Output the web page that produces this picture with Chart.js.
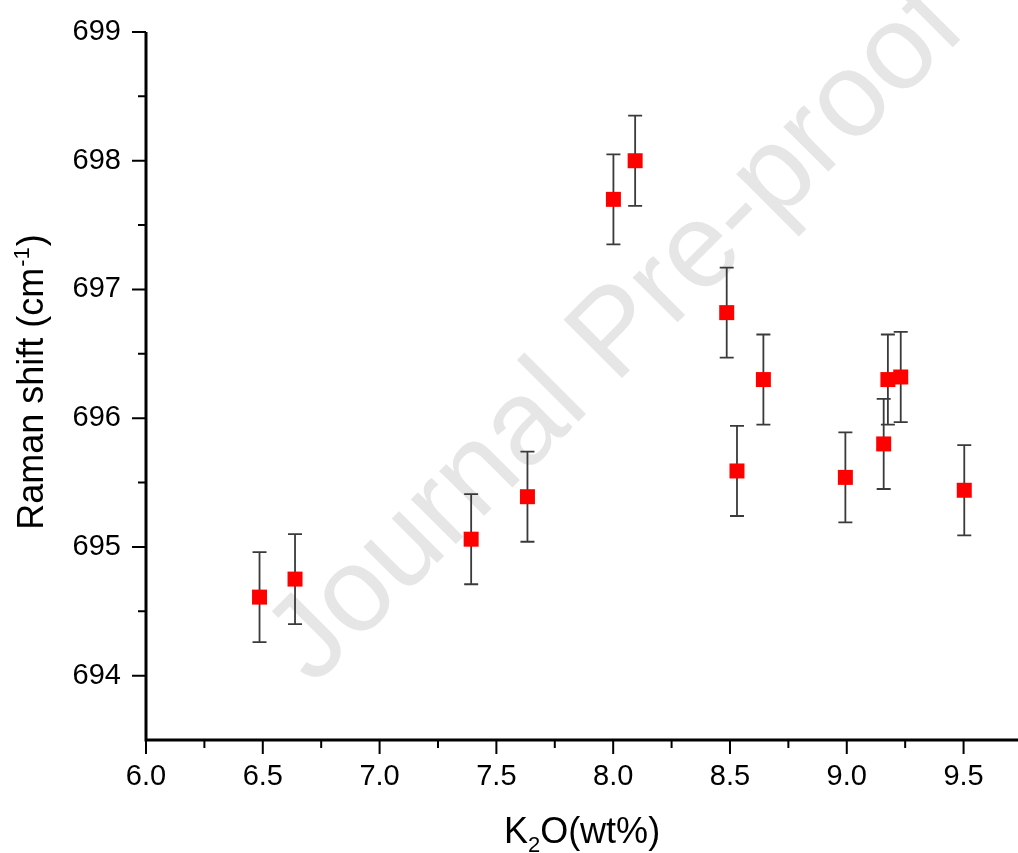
<!DOCTYPE html>
<html><head><meta charset="utf-8">
<script src="https://cdn.jsdelivr.net/npm/chart.js@4/dist/chart.umd.min.js"></script>
<style>html,body{margin:0;padding:0;background:#fff;overflow:hidden}#wrap{width:1018px;height:853px;position:relative}</style>
</head><body><div id="wrap"><canvas id="c"></canvas></div>
<script>
// ---- data ----
const k2o = [6.486, 6.638, 7.392, 7.633, 8.001, 8.094, 8.486, 8.530, 8.643, 8.994, 9.158, 9.176, 9.231, 9.503];
const ramanShift = [694.61, 694.75, 695.06, 695.39, 697.70, 698.00, 696.82, 695.59, 696.30, 695.54, 695.80, 696.30, 696.32, 695.44];
const ramanError = [0.35, 0.35, 0.35, 0.35, 0.35, 0.35, 0.35, 0.35, 0.35, 0.35, 0.35, 0.35, 0.35, 0.35];
const xMajorTicks = [6.0, 6.5, 7.0, 7.5, 8.0, 8.5, 9.0, 9.5];
const xMinorTicks = [6.25, 6.75, 7.25, 7.75, 8.25, 8.75, 9.25];
const yMajorTicks = [694, 695, 696, 697, 698, 699];
const yMinorTicks = [694.5, 695.5, 696.5, 697.5, 698.5];
const xRange = [6.0, 9.733];
const yRange = [693.5, 699];
const xTitleMain = 'K', xTitleSub = '2', xTitleRest = 'O(wt%)';
const yTitleMain = 'Raman shift (cm', yTitleSup = '-1', yTitleEnd = ')';
const watermarkText = 'Journal Pre-proof';

const FONT = '"Liberation Sans", Arial, Helvetica, sans-serif';

const customDraw = {
  id: 'customDraw',
  beforeDraw(chart) {
    const ctx = chart.ctx;
    ctx.save();
    ctx.fillStyle = '#ffffff';
    ctx.fillRect(0, 0, chart.width, chart.height);
    ctx.translate(641, 359);
    ctx.rotate(-Math.PI / 4);
    ctx.font = '120px ' + FONT;
    ctx.fillStyle = '#e6e6e6';
    ctx.textAlign = 'center';
    ctx.textBaseline = 'alphabetic';
    ctx.fillText(watermarkText, 0, 0);
    ctx.restore();
  },
  beforeDatasetsDraw(chart) {
    const ctx = chart.ctx, xs = chart.scales.x, ys = chart.scales.y;
    ctx.save();
    ctx.strokeStyle = '#3a3a3a';
    ctx.lineWidth = 1.8;
    const cap = 7;
    k2o.forEach((xv, i) => {
      const px = xs.getPixelForValue(xv);
      const pt = ys.getPixelForValue(ramanShift[i] + ramanError[i]);
      const pb = ys.getPixelForValue(ramanShift[i] - ramanError[i]);
      ctx.beginPath();
      ctx.moveTo(px, pt); ctx.lineTo(px, pb);
      ctx.moveTo(px - cap, pt); ctx.lineTo(px + cap, pt);
      ctx.moveTo(px - cap, pb); ctx.lineTo(px + cap, pb);
      ctx.stroke();
    });
    ctx.restore();
  },
  afterDraw(chart) {
    const ctx = chart.ctx, xs = chart.scales.x, ys = chart.scales.y, a = chart.chartArea;
    ctx.save();
    ctx.strokeStyle = '#000';
    ctx.lineWidth = 2;
    ctx.beginPath();
    yMajorTicks.forEach(v => { const p = ys.getPixelForValue(v); ctx.moveTo(a.left - 14, p); ctx.lineTo(a.left, p); });
    yMinorTicks.forEach(v => { const p = ys.getPixelForValue(v); ctx.moveTo(a.left - 8, p); ctx.lineTo(a.left, p); });
    xMajorTicks.forEach(v => { const p = xs.getPixelForValue(v); ctx.moveTo(p, a.bottom); ctx.lineTo(p, a.bottom + 14); });
    xMinorTicks.forEach(v => { const p = xs.getPixelForValue(v); ctx.moveTo(p, a.bottom); ctx.lineTo(p, a.bottom + 8); });
    ctx.stroke();
    ctx.lineWidth = 3;
    ctx.beginPath();
    ctx.moveTo(a.left, a.top); ctx.lineTo(a.left, a.bottom + 1.5);
    ctx.moveTo(a.left - 1.5, a.bottom); ctx.lineTo(a.right, a.bottom);
    ctx.stroke();
    ctx.fillStyle = '#000';
    ctx.textBaseline = 'alphabetic';
    ctx.textAlign = 'left';
    const big = '36px ' + FONT, small = '22px ' + FONT;
    ctx.font = big; const wK = ctx.measureText(xTitleMain).width; const wR = ctx.measureText(xTitleRest).width;
    ctx.font = small; const w2 = ctx.measureText(xTitleSub).width;
    let sx = (a.left + a.right) / 2 - (wK + w2 + wR) / 2;
    const by = 843;
    ctx.font = big; ctx.fillText(xTitleMain, sx, by);
    ctx.font = small; ctx.fillText(xTitleSub, sx + wK, by + 9);
    ctx.font = big; ctx.fillText(xTitleRest, sx + wK + w2, by);
    ctx.save();
    ctx.translate(43, (a.top + a.bottom) / 2 - 3);
    ctx.rotate(-Math.PI / 2);
    ctx.font = big; const w1 = ctx.measureText(yTitleMain).width; const w3 = ctx.measureText(yTitleEnd).width;
    ctx.font = small; const ws = ctx.measureText(yTitleSup).width;
    let st = -(w1 + ws + w3) / 2;
    ctx.font = big; ctx.fillText(yTitleMain, st, 0);
    ctx.font = small; ctx.fillText(yTitleSup, st + w1 + 1, -14);
    ctx.font = big; ctx.fillText(yTitleEnd, st + w1 + ws + 2, 0);
    ctx.restore();
    ctx.restore();
  }
};

function zeroPad(s) { s.paddingTop = 0; s.paddingBottom = 0; s.paddingLeft = 0; s.paddingRight = 0; }

new Chart(document.getElementById('c'), {
  type: 'scatter',
  data: {
    datasets: [{
      label: 'Raman shift',
      data: k2o.map((x, i) => ({ x: x, y: ramanShift[i] })),
      pointStyle: 'rect',
      pointRadius: 10.6,
      pointHoverRadius: 10.6,
      backgroundColor: '#ff0000',
      borderColor: '#ff0000',
      borderWidth: 0
    }]
  },
  options: {
    responsive: true,
    maintainAspectRatio: false,
    animation: false,
    layout: { autoPadding: false, padding: { top: 32, right: 0, left: 0, bottom: 0 } },
    plugins: { legend: { display: false }, tooltip: { enabled: false }, title: { display: false } },
    scales: {
      x: {
        type: 'linear', min: xRange[0], max: xRange[1],
        afterBuildTicks: s => { s.ticks = xMajorTicks.map(v => ({ value: v })); },
        afterFit: s => { s.height = 113; zeroPad(s); },
        grid: { display: false, drawTicks: false },
        border: { display: false },
        ticks: { color: '#000', padding: 20, font: { family: FONT, size: 29 }, callback: v => Number(v).toFixed(1), maxRotation: 0, autoSkip: false },
        title: { display: false }
      },
      y: {
        type: 'linear', min: yRange[0], max: yRange[1],
        afterBuildTicks: s => { s.ticks = yMajorTicks.map(v => ({ value: v })); },
        afterFit: s => { s.width = 146; zeroPad(s); },
        grid: { display: false, drawTicks: false },
        border: { display: false },
        ticks: { color: '#000', padding: 25, font: { family: FONT, size: 29 }, callback: v => String(Math.round(v)), autoSkip: false },
        title: { display: false }
      }
    }
  },
  plugins: [customDraw]
});
</script>
</body></html>
